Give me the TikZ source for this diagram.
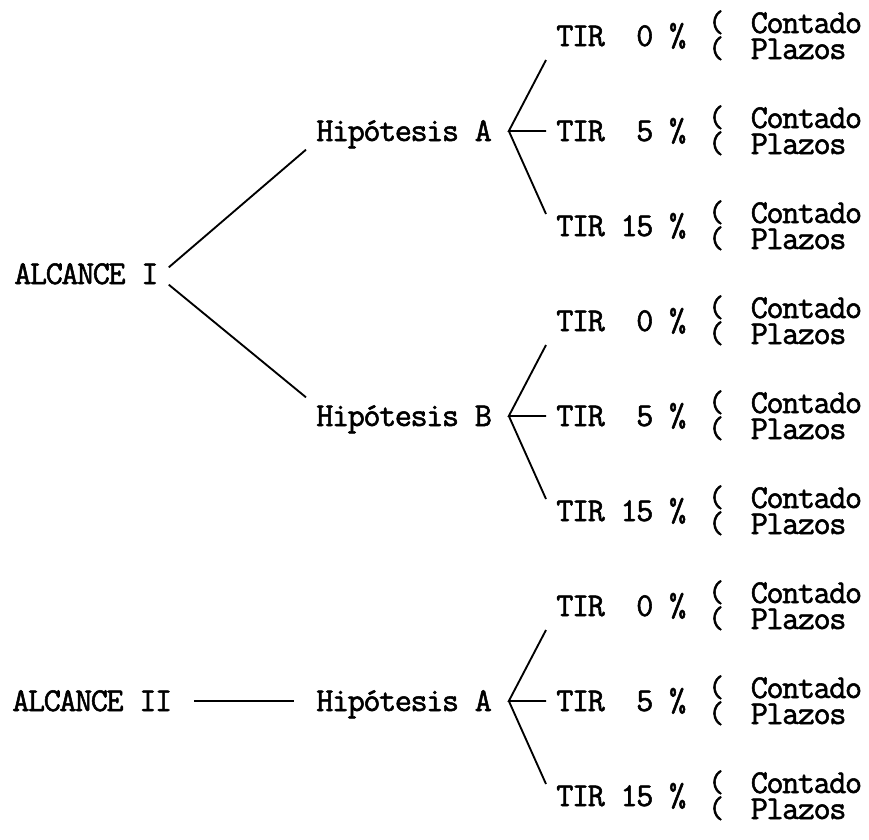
\documentclass[tikz,border=0pt]{standalone}
\usepackage{fontspec}
\usepackage{tikz}
\newfontfamily\typew[FakeBold=1.6, LetterSpace=-4.4]{Latin Modern Mono}
\newcommand{\lpar}{\raisebox{1pt}{\fontsize{23}{23}\selectfont(}}

\begin{document}
\begin{tikzpicture}[x=0.75pt, y=-0.75pt, line width=1.4pt,
    txt/.style={anchor=west, font=\typew\fontsize{25}{24}\selectfont,
        inner xsep=7pt, inner ysep=0pt, text height=15pt, text depth=0pt}]
    \useasboundingbox (0,0) rectangle (869,840);
    %固定画面大小(useasboundingbox),单位为像素(x=0.75pt)
    \node[txt] (alc1) at (4,274) {ALCANCE I};
    \node[txt] (alc2) at (2,701) {ALCANCE II};
    %左侧两个节点(node):ALCANCE I 与 ALCANCE II
    \node[txt] (hA1) at (306,131) {Hipótesis A};
    \node[txt] (hB) at (306,416) {Hipótesis B};
    \node[txt] (hA2) at (306,701) {Hipótesis A};
    %中间三个假设节点(node),文字左对齐(anchor=west)
    \foreach \g in {0,1,2}{
        \foreach \r/\pct in {0/{TIR~~0 \%}, 1/{TIR~~5 \%}, 2/{TIR 15 \%}}{
            \pgfmathsetmacro{\yy}{36+95*(3*\g+\r)}
            \node[txt] (t\g\r) at (546,\yy) {\pct};
            \node[txt] (c\g\r) at (698,\yy-13) {\lpar\hspace{0.8em}Contado};
            \node[txt] (p\g\r) at (698,\yy+13) {\lpar\hspace{0.8em}Plazos};
        }
    }
    %每组(\g)三行(\r):TIR节点(t)、Contado节点(c)、Plazos节点(p),行距95
    \draw ([yshift=5pt]alc1.east) -- ([yshift=-14pt]hA1.west);
    \draw ([yshift=-8pt]alc1.east) -- ([yshift=14pt]hB.west);
    \draw ([xshift=9pt]alc2.east) -- ([xshift=-9pt]hA2.west);
    %ALCANCE 到 Hipótesis 的连线(draw)
    \foreach \h/\g in {hA1/0, hB/1, hA2/2}{
        \draw ([yshift=-18pt]t\g0.west) -- ([xshift=5pt]\h.east) -- (t\g1.west);
        \draw ([xshift=5pt]\h.east) -- ([yshift=9pt]t\g2.west);
    }
    %Hipótesis 到三个TIR的分支(draw),上支到TIR左下,下支到TIR左上
\end{tikzpicture}
\end{document}
